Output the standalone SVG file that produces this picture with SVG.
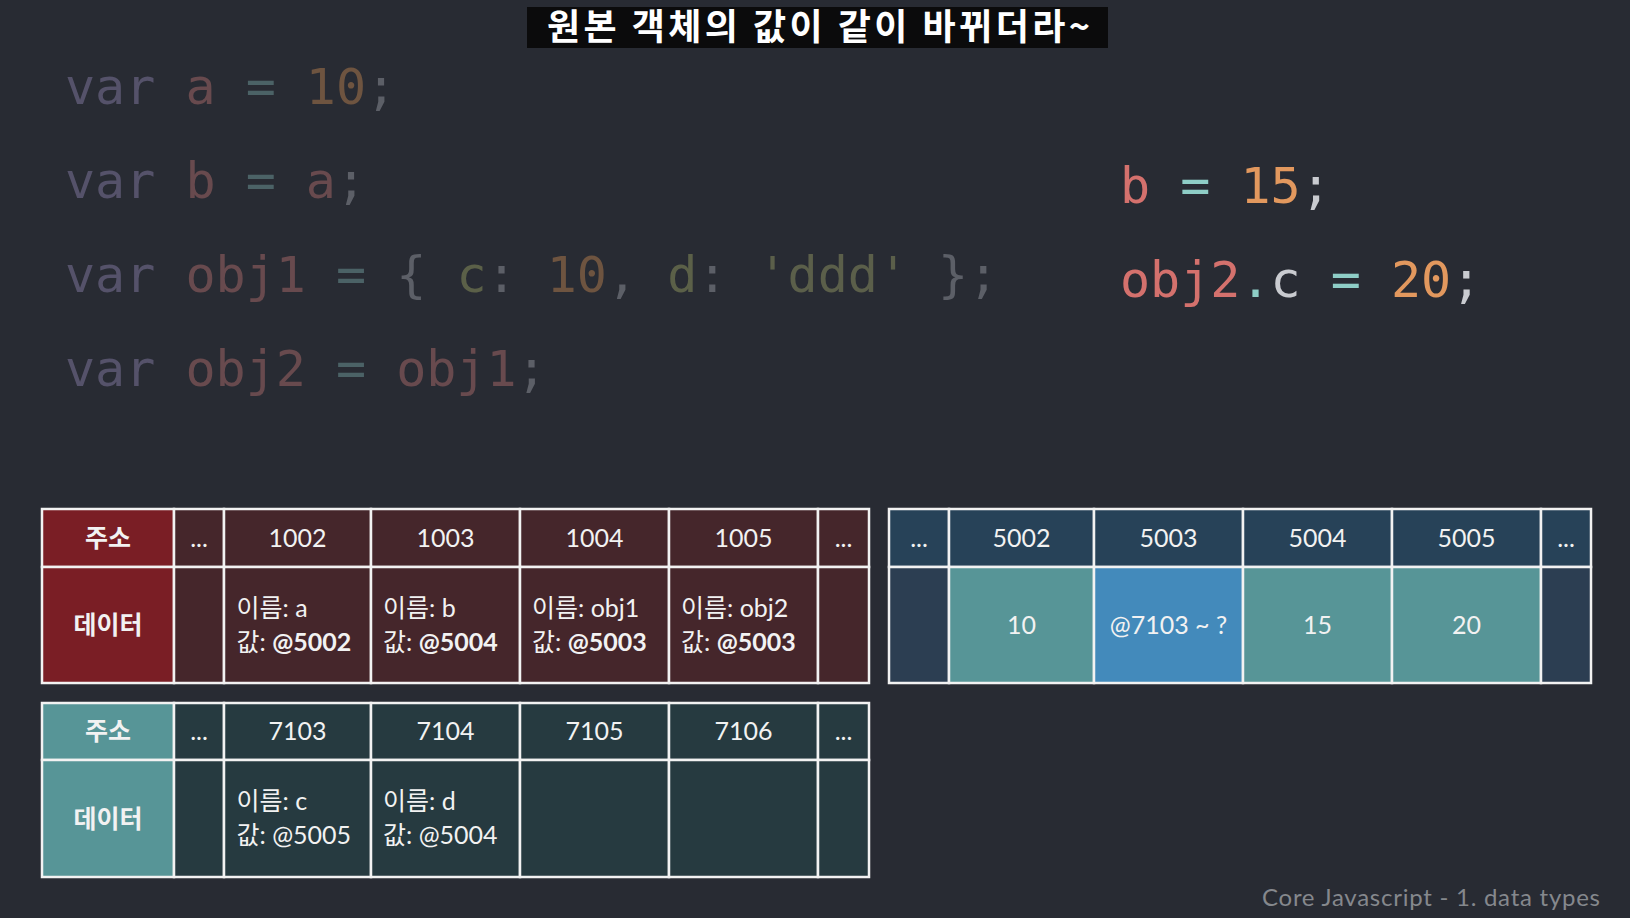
<svg xmlns="http://www.w3.org/2000/svg" width="1630" height="918" viewBox="0 0 1630 918">
<style>
.code{font-family:"DejaVu Sans Mono","Liberation Mono",monospace;font-size:50px;white-space:pre}
.kw{fill:#55526a}.vr{fill:#684a4e}.op{fill:#4b6266}.nm{fill:#6e5440}.pn{fill:#5c5f67}.ky{fill:#5b6048}.st{fill:#5b5f4a}
.v2{fill:#d4716d}.o2{fill:#8ecdc6}.n2{fill:#e2985e}.p2{fill:#c9cbd0}
.cell{stroke:#f2f2f2;stroke-width:2.5}
.red{fill:#7a1e25}.mar{fill:#45262b}.teal{fill:#579597}.dk{fill:#263a40}.nv{fill:#274258}.nv2{fill:#2c3e52}.blue{fill:#438abb}
.t{font-family:Lato,"Noto Sans CJK KR",sans-serif;font-size:25px;fill:#f2f2f2}
.c{text-anchor:middle}
.b{font-weight:700}
</style>
<rect x="0" y="0" width="1630" height="918" fill="#282b33"/>

<g id="subtitle">
<rect x="527" y="7" width="581" height="41" fill="#0b0b0c"/>
<text x="547" y="40" textLength="543" lengthAdjust="spacing" font-family="'Noto Sans CJK KR',sans-serif" font-size="36" font-weight="700" fill="#ffffff">원본 객체의 값이 같이 바뀌더라~</text>
</g>

<g id="code-left">
<text class="code" x="65" y="104"><tspan class="kw">var </tspan><tspan class="vr">a </tspan><tspan class="op">= </tspan><tspan class="nm">10</tspan><tspan class="pn">;</tspan></text>
<text class="code" x="65" y="198"><tspan class="kw">var </tspan><tspan class="vr">b </tspan><tspan class="op">= </tspan><tspan class="vr">a</tspan><tspan class="pn">;</tspan></text>
<text class="code" x="65" y="292"><tspan class="kw">var </tspan><tspan class="vr">obj1 </tspan><tspan class="op">= </tspan><tspan class="pn">{ </tspan><tspan class="ky">c</tspan><tspan class="pn">: </tspan><tspan class="nm">10</tspan><tspan class="pn">, </tspan><tspan class="ky">d</tspan><tspan class="pn">: </tspan><tspan class="st">'ddd'</tspan><tspan class="pn"> };</tspan></text>
<text class="code" x="65" y="386"><tspan class="kw">var </tspan><tspan class="vr">obj2 </tspan><tspan class="op">= </tspan><tspan class="vr">obj1</tspan><tspan class="pn">;</tspan></text>
</g>

<g id="code-right">
<text class="code" x="1120" y="203"><tspan class="v2">b </tspan><tspan class="o2">= </tspan><tspan class="n2">15</tspan><tspan class="p2">;</tspan></text>
<text class="code" x="1120" y="297"><tspan class="v2">obj2</tspan><tspan class="o2">.</tspan><tspan class="p2">c </tspan><tspan class="o2">= </tspan><tspan class="n2">20</tspan><tspan class="p2">;</tspan></text>
</g>

<g id="stack-table">
<g id="s-addr-label"><rect class="cell red" x="42" y="509" width="132" height="58"/><text class="t c b" x="108" y="547">주소</text></g>
<g id="s-addr-dots1"><rect class="cell mar" x="174" y="509" width="50" height="58"/><text class="t c" x="199" y="547">...</text></g>
<g id="s-addr-1002"><rect class="cell mar" x="224" y="509" width="147" height="58"/><text class="t c" x="297.5" y="547">1002</text></g>
<g id="s-addr-1003"><rect class="cell mar" x="371" y="509" width="149" height="58"/><text class="t c" x="445.5" y="547">1003</text></g>
<g id="s-addr-1004"><rect class="cell mar" x="520" y="509" width="149" height="58"/><text class="t c" x="594.5" y="547">1004</text></g>
<g id="s-addr-1005"><rect class="cell mar" x="669" y="509" width="149" height="58"/><text class="t c" x="743.5" y="547">1005</text></g>
<g id="s-addr-dots2"><rect class="cell mar" x="818" y="509" width="51" height="58"/><text class="t c" x="843.5" y="547">...</text></g>
<g id="s-data-label"><rect class="cell red" x="42" y="567" width="132" height="116"/><text class="t c b" x="108" y="634">데이터</text></g>
<g id="s-data-dots1"><rect class="cell mar" x="174" y="567" width="50" height="116"/></g>
<g id="s-data-1002"><rect class="cell mar" x="224" y="567" width="147" height="116"/><text class="t" x="236.5" y="617">이름: a</text><text class="t" x="236.5" y="651">값: <tspan class="b">@5002</tspan></text></g>
<g id="s-data-1003"><rect class="cell mar" x="371" y="567" width="149" height="116"/><text class="t" x="383" y="617">이름: b</text><text class="t" x="383" y="651">값: <tspan class="b">@5004</tspan></text></g>
<g id="s-data-1004"><rect class="cell mar" x="520" y="567" width="149" height="116"/><text class="t" x="532" y="617">이름: obj1</text><text class="t" x="532" y="651">값: <tspan class="b">@5003</tspan></text></g>
<g id="s-data-1005"><rect class="cell mar" x="669" y="567" width="149" height="116"/><text class="t" x="681" y="617">이름: obj2</text><text class="t" x="681" y="651">값: <tspan class="b">@5003</tspan></text></g>
<g id="s-data-dots2"><rect class="cell mar" x="818" y="567" width="51" height="116"/></g>
</g>

<g id="obj-table">
<g id="o-addr-label"><rect class="cell teal" x="42" y="703" width="132" height="57"/><text class="t c b" x="108" y="740">주소</text></g>
<g id="o-addr-dots1"><rect class="cell dk" x="174" y="703" width="50" height="57"/><text class="t c" x="199" y="740">...</text></g>
<g id="o-addr-7103"><rect class="cell dk" x="224" y="703" width="147" height="57"/><text class="t c" x="297.5" y="740">7103</text></g>
<g id="o-addr-7104"><rect class="cell dk" x="371" y="703" width="149" height="57"/><text class="t c" x="445.5" y="740">7104</text></g>
<g id="o-addr-7105"><rect class="cell dk" x="520" y="703" width="149" height="57"/><text class="t c" x="594.5" y="740">7105</text></g>
<g id="o-addr-7106"><rect class="cell dk" x="669" y="703" width="149" height="57"/><text class="t c" x="743.5" y="740">7106</text></g>
<g id="o-addr-dots2"><rect class="cell dk" x="818" y="703" width="51" height="57"/><text class="t c" x="843.5" y="740">...</text></g>
<g id="o-data-label"><rect class="cell teal" x="42" y="760" width="132" height="117"/><text class="t c b" x="108" y="828">데이터</text></g>
<g id="o-data-dots1"><rect class="cell dk" x="174" y="760" width="50" height="117"/></g>
<g id="o-data-7103"><rect class="cell dk" x="224" y="760" width="147" height="117"/><text class="t" x="236.5" y="810">이름: c</text><text class="t" x="236.5" y="844">값: @5005</text></g>
<g id="o-data-7104"><rect class="cell dk" x="371" y="760" width="149" height="117"/><text class="t" x="383" y="810">이름: d</text><text class="t" x="383" y="844">값: @5004</text></g>
<g id="o-data-7105"><rect class="cell dk" x="520" y="760" width="149" height="117"/></g>
<g id="o-data-7106"><rect class="cell dk" x="669" y="760" width="149" height="117"/></g>
<g id="o-data-dots2"><rect class="cell dk" x="818" y="760" width="51" height="117"/></g>
</g>

<g id="data-table">
<g id="d-addr-dots1"><rect class="cell nv" x="889" y="509" width="60" height="58"/><text class="t c" x="919" y="547">...</text></g>
<g id="d-addr-5002"><rect class="cell nv" x="949" y="509" width="145" height="58"/><text class="t c" x="1021.5" y="547">5002</text></g>
<g id="d-addr-5003"><rect class="cell nv" x="1094" y="509" width="149" height="58"/><text class="t c" x="1168.5" y="547">5003</text></g>
<g id="d-addr-5004"><rect class="cell nv" x="1243" y="509" width="149" height="58"/><text class="t c" x="1317.5" y="547">5004</text></g>
<g id="d-addr-5005"><rect class="cell nv" x="1392" y="509" width="149" height="58"/><text class="t c" x="1466.5" y="547">5005</text></g>
<g id="d-addr-dots2"><rect class="cell nv" x="1541" y="509" width="50" height="58"/><text class="t c" x="1566" y="547">...</text></g>
<g id="d-data-dots1"><rect class="cell nv2" x="889" y="567" width="60" height="116"/></g>
<g id="d-data-5002"><rect class="cell teal" x="949" y="567" width="145" height="116"/><text class="t c" x="1021.5" y="634">10</text></g>
<g id="d-data-5003"><rect class="cell blue" x="1094" y="567" width="149" height="116"/><text class="t c" x="1168.5" y="634">@7103 ~ ?</text></g>
<g id="d-data-5004"><rect class="cell teal" x="1243" y="567" width="149" height="116"/><text class="t c" x="1317.5" y="634">15</text></g>
<g id="d-data-5005"><rect class="cell teal" x="1392" y="567" width="149" height="116"/><text class="t c" x="1466.5" y="634">20</text></g>
<g id="d-data-dots2"><rect class="cell nv2" x="1541" y="567" width="50" height="116"/></g>
</g>

<g id="footer">
<text x="1262" y="906" textLength="338" lengthAdjust="spacing" font-family="Lato,'Liberation Sans',sans-serif" font-size="24" fill="#85888d">Core Javascript - 1. data types</text>
</g>
</svg>
